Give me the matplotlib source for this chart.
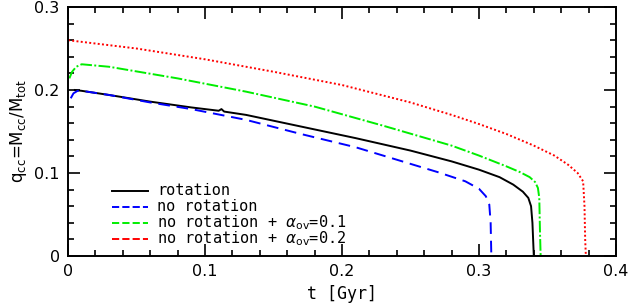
import matplotlib
matplotlib.use('Agg')
import matplotlib.pyplot as plt
from matplotlib.ticker import MultipleLocator

# t [Gyr] and q_cc
t_rot = [0.005, 0.01, 0.03, 0.06, 0.09, 0.11, 0.112, 0.114, 0.13, 0.17, 0.21, 0.25,
         0.28, 0.30, 0.315, 0.325, 0.332, 0.336, 0.338, 0.339, 0.3395, 0.340, 0.352]
q_rot = [0.200, 0.199, 0.194, 0.186, 0.179, 0.175, 0.177, 0.174, 0.170, 0.156, 0.142, 0.127,
         0.114, 0.104, 0.095, 0.086, 0.0775, 0.070, 0.060, 0.040, 0.020, 0.0, 0.0]

t_norot = [0.002, 0.004, 0.007, 0.01, 0.03, 0.06, 0.09, 0.13, 0.17, 0.21, 0.25, 0.27,
           0.29, 0.30, 0.305, 0.3075, 0.3085, 0.309, 0.315]
q_norot = [0.190, 0.196, 0.199, 0.199, 0.194, 0.185, 0.177, 0.164, 0.147, 0.131, 0.111, 0.101,
           0.090, 0.081, 0.072, 0.062, 0.040, 0.0, 0.0]

t_ov1 = [0.001, 0.003, 0.006, 0.010, 0.03, 0.08, 0.13, 0.18, 0.23, 0.28, 0.30, 0.32,
         0.33, 0.337, 0.341, 0.343, 0.344, 0.3445, 0.345]
q_ov1 = [0.214, 0.222, 0.228, 0.231, 0.228, 0.214, 0.198, 0.180, 0.157, 0.133, 0.121, 0.108,
         0.101, 0.095, 0.089, 0.082, 0.070, 0.030, 0.0]

t_ov2 = [0.0, 0.05, 0.10, 0.15, 0.20, 0.25, 0.28, 0.30, 0.32, 0.34, 0.355, 0.365,
         0.372, 0.376, 0.377, 0.3775, 0.378]
q_ov2 = [0.260, 0.250, 0.237, 0.222, 0.206, 0.185, 0.170, 0.159, 0.147, 0.133, 0.121, 0.110,
         0.100, 0.090, 0.060, 0.020, 0.0]

xticks = [0, 0.1, 0.2, 0.3, 0.4]
xticklabels = ['0', '0.1', '0.2', '0.3', '0.4']
yticks = [0, 0.1, 0.2, 0.3]
yticklabels = ['0', '0.1', '0.2', '0.3']

labels = ['rotation', 'no rotation',
          r'no rotation + $\alpha_{\rm ov}$=0.1',
          r'no rotation + $\alpha_{\rm ov}$=0.2']

fig = plt.figure(figsize=(6.3, 3.08), dpi=100)
ax = fig.add_axes([68 / 630, 1 - 256 / 308, 548 / 630, 249 / 308])

lines = []
lines += ax.plot(t_rot, q_rot, color='black', lw=1.4, ls='-')
lines += ax.plot(t_norot, q_norot, color='#0000ff', lw=1.4, ls=(0, (6, 3.5)))
lines += ax.plot(t_ov1, q_ov1, color='#00ee00', lw=1.4, ls=(0, (6, 1.2, 1, 1.2)))
lines += ax.plot(t_ov2, q_ov2, color='#ff0000', lw=1.4, ls=(0, (1, 1.2)))

ax.set_xticks(xticks)
ax.set_xticklabels(xticklabels)
ax.set_yticks(yticks)
ax.set_yticklabels(yticklabels)
ax.xaxis.set_minor_locator(MultipleLocator(0.02))
ax.yaxis.set_minor_locator(MultipleLocator(0.02))
ax.tick_params(which='both', direction='in', top=True, right=True, width=1.2,
               labelsize=11.5)
ax.tick_params(which='major', length=8.6, pad=6)
ax.tick_params(which='minor', length=4.3)
for s in ax.spines.values():
    s.set_linewidth(1.4)

ax.set_xlabel('t [Gyr]', family='DejaVu Sans Mono', fontsize=12, labelpad=4)
ax.set_ylabel(r'q$_{\rm cc}$=M$_{\rm cc}$/M$_{\rm tot}$', fontsize=12, labelpad=4)

# legend drawn by hand to get the tight row spacing
for i, (ln, lab) in enumerate(zip(lines, labels)):
    y = 0.262 - i * 0.064
    ax.plot([0.081, 0.146], [y, y], transform=ax.transAxes, color=ln.get_color(),
            ls=ln.get_linestyle(), lw=1.4)
    ax.text(0.162, y, lab, transform=ax.transAxes, va='center', ha='left',
            family='DejaVu Sans Mono', fontsize=11)

ax.set_xlim(0, 0.4)
ax.set_ylim(0, 0.3)

fig.savefig('out.png', dpi=100)
